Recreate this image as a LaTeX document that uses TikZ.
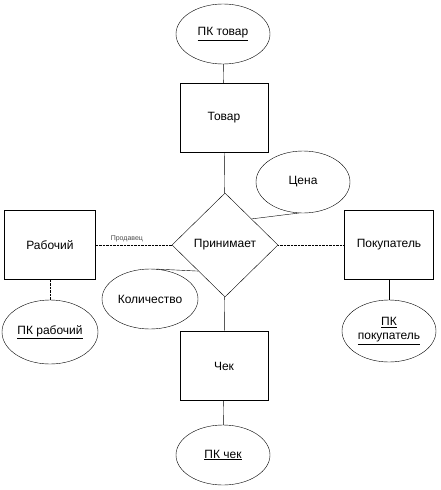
\documentclass[tikz,border=0pt]{standalone}
\usepackage{fontspec}
\setmainfont{Liberation Sans}
\usepackage{tikz}
\usetikzlibrary{shapes.geometric}

\begin{document}
\begin{tikzpicture}[
      x=1pt, y=-1pt,
      entity/.style={draw, thin, minimum width=88pt, minimum height=69pt, inner sep=0pt, align=center, font=\fontsize{12}{14}\selectfont},
      attr/.style={draw, thin, ellipse, minimum width=94pt, minimum height=60pt, inner sep=0pt, align=center, font=\fontsize{12}{14}\selectfont},
      rel/.style={draw, thin, diamond, minimum width=106pt, minimum height=104pt, inner sep=0pt, font=\fontsize{12}{14}\selectfont},
      link/.style={thin},
      dlink/.style={thin, densely dotted}
    ]
    \useasboundingbox (0,0) rectangle (440,490);

    % entities and relationship
    \node[rel]    (prin)  at (225,245) {Принимает};
    \node[entity] (tovar) at (224,118) {Товар};
    \node[entity] (chek)  at (224,366) {Чек};
    \node[entity, minimum width=91pt] (rab) at (50,245) {Рабочий};
    \node[entity, minimum width=89pt] (pok) at (389,245) {Покупатель};

    % attributes
    \node[attr] (pktovar) at (223,34)  {\underline{ПК товар}};
    \node[attr] (pkchek)  at (223,455) {\underline{ПК чек}};
    \node[attr, minimum width=96pt, minimum height=64pt] (pkrab) at (50,332) {\underline{ПК рабочий}};
    \node[attr, minimum height=62pt] (pkpok) at (389,331) {\underline{ПК}\\\underline{покупатель}};
    \node[attr, minimum height=62pt] (cena) at (303,182) {Цена};
    \node[attr, minimum width=96pt] (kol) at (150,299) {Количество};

    % connectors
    \draw[link] (pktovar) -- (tovar);
    \draw[link] (tovar) -- (prin);
    \draw[link] (prin) -- (chek);
    \draw[link] (chek) -- (pkchek);
    \draw[dlink] (rab) -- node[above, pos=0.41, font=\fontsize{7}{8}\selectfont, text=black!70]{Продавец} (prin);
    \draw[dlink] (prin) -- (pok);
    \draw[dlink] (rab) -- (pkrab);
    \draw[link] (pok) -- (pkpok);
    \draw[link] (prin.north east) -- (cena.262);
    \draw[link] (kol.78) -- (prin.south west);
  \end{tikzpicture}
\end{document}
